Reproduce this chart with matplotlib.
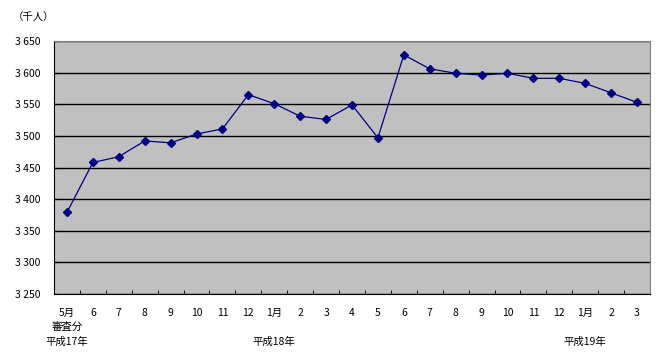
import matplotlib
matplotlib.use('Agg')
import matplotlib.pyplot as plt
import numpy as np

plt.rcParams['font.family'] = ['Noto Sans CJK JP', 'DejaVu Sans']

# monthly values (thousand persons)
months = ['5月', '6', '7', '8', '9', '10', '11', '12', '1月', '2', '3', '4',
          '5', '6', '7', '8', '9', '10', '11', '12', '1月', '2', '3']
values = [3379, 3458, 3467, 3492, 3489, 3503, 3511, 3565, 3551, 3531, 3526, 3549,
          3497, 3628, 3606, 3599, 3596, 3599, 3591, 3591, 3583, 3568, 3553]
yticks = [3250, 3300, 3350, 3400, 3450, 3500, 3550, 3600, 3650]
ytick_labels = ['3 250', '3 300', '3 350', '3 400', '3 450', '3 500', '3 550', '3 600', '3 650']
year_labels = [(0, '平成17年'), (8, '平成18年'), (20, '平成19年')]

fig = plt.figure(figsize=(6.6, 3.62), dpi=100)
ax = fig.add_axes([54 / 660, 1 - 294 / 362, 596 / 660, 253 / 362])
ax.set_facecolor('#C0C0C0')

x = np.arange(len(values))
ax.plot(x, values, color='#000080', linewidth=0.9, marker='D', markersize=3.8,
        markerfacecolor='#000080', markeredgecolor='#000080', zorder=3)

ax.set_xlim(-0.5, len(values) - 0.5)
ax.set_ylim(3250, 3650)
ax.set_yticks(yticks)
ax.set_yticklabels(ytick_labels, fontsize=7.5)
ax.yaxis.grid(True, color='black', linewidth=1)
ax.set_axisbelow(True)

# category labels without tick marks, boundary ticks pointing inward
ax.set_xticks(x)
ax.set_xticklabels(months, fontsize=7.5)
ax.set_xticks(np.arange(len(values) + 1) - 0.5, minor=True)
ax.tick_params(axis='x', which='major', length=0, pad=10)
ax.tick_params(axis='x', which='minor', direction='in', length=3, color='black')
ax.tick_params(axis='y', direction='in', length=3, pad=10)

for side in ['top', 'right']:
    ax.spines[side].set_color('#808080')
for side in ['left', 'bottom']:
    ax.spines[side].set_color('black')

ax.text(0, -0.13, '審査分', transform=ax.get_xaxis_transform(), ha='center', va='center', fontsize=7.5)
for pos, lab in year_labels:
    ax.text(pos, -0.19, lab, transform=ax.get_xaxis_transform(), ha='center', va='center', fontsize=7.5)

fig.text(34 / 660, 1 - 18 / 362, '（千人）', ha='center', va='center', fontsize=7.5)

fig.savefig('out.png', dpi=100)
